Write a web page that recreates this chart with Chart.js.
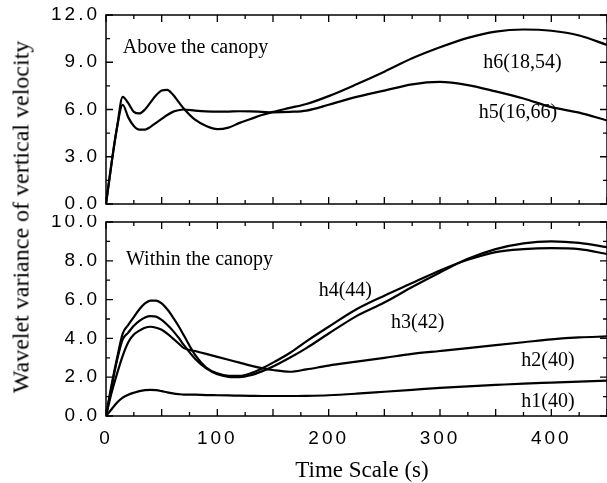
<!DOCTYPE html>
<html>
<head>
<meta charset="utf-8">
<script src="https://cdn.jsdelivr.net/npm/chart.js@4.4.1/dist/chart.umd.min.js"></script>
<style>
html, body { margin: 0; padding: 0; background: #fff; }
#wrap { position: relative; width: 607px; height: 483px; overflow: hidden; background: #fff; }
#wrap canvas { position: absolute; left: 0; }
#top_canvas { top: 0; }
#bottom_canvas { top: 215px; }
.y_title { position: absolute; left: 21px; top: 217px; transform: translate(-50%, -50%) rotate(-90deg);
  white-space: nowrap; font: 24px "Liberation Serif"; color: #000; }
.x_title { position: absolute; left: 362px; top: 470px; transform: translate(-50%, -50%);
  white-space: nowrap; font: 23px "Liberation Serif"; color: #000; }
</style>
</head>
<body>
<div id="wrap">
  <canvas id="top_canvas" width="607" height="215"></canvas>
  <canvas id="bottom_canvas" width="607" height="268"></canvas>
  <div class="y_title">Wavelet variance of vertical velocity</div>
  <div class="x_title">Time Scale (s)</div>
</div>
<script>
// time scale (s)
var time_scale = [0, 5, 10, 15, 20, 25, 30, 35, 40, 45, 50, 55, 60, 65, 70, 80, 90, 100, 110, 120,
                  130, 140, 150, 165, 180, 200, 225, 250, 275, 300, 325, 350, 375, 400, 425, 450];

// above the canopy
var h6 = [0, 2.6, 4.9, 6.8, 6.4, 5.85, 5.75, 6.0, 6.45, 6.9, 7.2, 7.25, 6.95, 6.5, 6.05, 5.35, 4.95, 4.75, 4.85, 5.15,
          5.4, 5.65, 5.85, 6.1, 6.35, 6.85, 7.6, 8.4, 9.25, 9.95, 10.55, 10.95, 11.08, 11.0, 10.7, 10.1];
var h5 = [0, 2.6, 4.9, 6.3, 5.5, 4.95, 4.72, 4.72, 4.9, 5.15, 5.4, 5.65, 5.85, 5.95, 6.0, 5.93, 5.88, 5.86, 5.87, 5.89,
          5.88, 5.85, 5.82, 5.85, 5.93, 6.3, 6.8, 7.2, 7.6, 7.75, 7.55, 7.15, 6.7, 6.15, 5.8, 5.3];

// within the canopy
var h4 = [0, 1.6, 3.0, 4.25, 4.7, 5.1, 5.5, 5.8, 5.95, 5.95, 5.8, 5.5, 5.1, 4.65, 4.15, 3.15, 2.5, 2.2, 2.07, 2.07,
          2.2, 2.45, 2.75, 3.25, 3.85, 4.6, 5.5, 6.2, 6.85, 7.5, 8.05, 8.45, 8.6, 8.65, 8.6, 8.35];
var h3 = [0, 1.5, 2.9, 3.95, 4.3, 4.65, 4.9, 5.08, 5.15, 5.12, 4.95, 4.7, 4.4, 4.05, 3.65, 2.95, 2.45, 2.15, 2.02, 2.0,
          2.1, 2.3, 2.55, 3.0, 3.5, 4.25, 5.15, 5.85, 6.65, 7.4, 8.1, 8.6, 8.9, 9.0, 8.92, 8.7];
var h2 = [0, 1.2, 2.2, 3.1, 3.8, 4.2, 4.4, 4.55, 4.6, 4.55, 4.45, 4.25, 4.0, 3.75, 3.5, 3.35, 3.2, 3.05, 2.9, 2.75,
          2.6, 2.47, 2.37, 2.28, 2.4, 2.6, 2.8, 3.0, 3.2, 3.35, 3.5, 3.65, 3.8, 3.95, 4.05, 4.1];
var h1 = [0, 0.35, 0.7, 0.95, 1.1, 1.2, 1.28, 1.33, 1.35, 1.33, 1.28, 1.22, 1.17, 1.13, 1.1, 1.1, 1.08, 1.07, 1.06, 1.05,
          1.04, 1.03, 1.03, 1.03, 1.04, 1.07, 1.15, 1.25, 1.35, 1.45, 1.53, 1.6, 1.67, 1.72, 1.77, 1.82];

// tick labels
var x_ticks = [0, 100, 200, 300, 400];
var top_y_ticks = [0, 3, 6, 9, 12];
var bottom_y_ticks = [0, 2, 4, 6, 8, 10];

// curve names and panel names: [text, time, value]
var top_labels = [['Above the canopy', 15, 9.9], ['h6(18,54)', 374, 8.95], ['h5(16,66)', 370, 5.8]];
var bottom_labels = [['Within the canopy', 18, 8.05], ['h4(44)', 215, 6.45], ['h3(42)', 280, 4.8],
                     ['h2(40)', 397, 2.85], ['h1(40)', 397, 0.75]];

function to_points(ys) {
    return time_scale.map(function (t, i) { return { x: t, y: ys[i] }; });
}

function make_set(ys) {
    return {
        data: to_points(ys),
        borderColor: '#000',
        borderWidth: 2.2,
        pointRadius: 0,
        fill: false,
        cubicInterpolationMode: 'monotone'
    };
}

// frame with inward ticks + text labels
var frame_plugin = {
    id: 'frame_ticks',
    beforeDraw: function (chart) {
        chart.ctx.letterSpacing = '3px';
    },
    afterDraw: function (chart, args, opts) {
        var ctx = chart.ctx, a = chart.chartArea;
        var xs = chart.scales.x, ys = chart.scales.y;
        ctx.save();
        ctx.strokeStyle = '#000';
        ctx.lineWidth = 1.5;
        ctx.strokeRect(a.left, a.top, a.right - a.left, a.bottom - a.top);
        ctx.lineWidth = 1.3;
        ctx.beginPath();
        for (var v = 0; v <= 450; v += 25) {
            var px = xs.getPixelForValue(v);
            var len = (v % 50 == 0) ? 7 : 4;
            ctx.moveTo(px, a.bottom); ctx.lineTo(px, a.bottom - len);
            ctx.moveTo(px, a.top); ctx.lineTo(px, a.top + len);
        }
        for (var k = 0; k * opts.minor <= opts.max + 0.001; k++) {
            var py = ys.getPixelForValue(k * opts.minor);
            var l2 = (k % 2 == 0) ? 7 : 4;
            ctx.moveTo(a.left, py); ctx.lineTo(a.left + l2, py);
            ctx.moveTo(a.right, py); ctx.lineTo(a.right - l2, py);
        }
        ctx.stroke();

        ctx.letterSpacing = '0px';
        ctx.fillStyle = '#000';
        ctx.font = '20px "Liberation Serif"';
        ctx.textBaseline = 'middle';
        opts.labels.forEach(function (lb, i) {
            ctx.textAlign = (i == 0) ? 'left' : 'center';
            ctx.fillText(lb[0], xs.getPixelForValue(lb[1]), ys.getPixelForValue(lb[2]));
        });
        ctx.restore();
    }
};

function y_axis(max, ticks) {
    return {
        type: 'linear',
        min: 0,
        max: max,
        grid: { display: false, drawTicks: false },
        border: { display: false },
        afterBuildTicks: function (scale) {
            scale.ticks = ticks.map(function (v) { return { value: v }; });
        },
        afterFit: function (scale) {
            scale.width = 106;
            scale.paddingTop = 0;
            scale.paddingBottom = 0;
        },
        ticks: {
            padding: 6,
            color: '#000',
            font: { family: '"Liberation Sans"', size: 19 },
            callback: function (v) { return Number(v).toFixed(1); }
        }
    };
}

var top_chart = new Chart(document.getElementById('top_canvas'), {
    type: 'line',
    data: { datasets: [make_set(h6), make_set(h5)] },
    plugins: [frame_plugin],
    options: {
        responsive: false,
        animation: false,
        layout: { padding: { left: 0, right: 0, top: 15, bottom: 11 } },
        plugins: {
            legend: { display: false },
            tooltip: { enabled: false },
            frame_ticks: { max: 12, minor: 1.5, labels: top_labels }
        },
        scales: {
            x: { type: 'linear', min: 0, max: 450, display: false },
            y: y_axis(12, top_y_ticks)
        }
    }
});

var bottom_chart = new Chart(document.getElementById('bottom_canvas'), {
    type: 'line',
    data: { datasets: [make_set(h4), make_set(h3), make_set(h2), make_set(h1)] },
    plugins: [frame_plugin],
    options: {
        responsive: false,
        animation: false,
        layout: { padding: { left: 0, right: 0, top: 7, bottom: 0 } },
        plugins: {
            legend: { display: false },
            tooltip: { enabled: false },
            frame_ticks: { max: 10, minor: 1, labels: bottom_labels }
        },
        scales: {
            x: {
                type: 'linear',
                min: 0,
                max: 450,
                grid: { display: false, drawTicks: false },
                border: { display: false },
                afterBuildTicks: function (scale) {
                    scale.ticks = x_ticks.map(function (v) { return { value: v }; });
                },
                afterFit: function (scale) {
                    scale.height = 67;
                    scale.paddingLeft = 0;
                    scale.paddingRight = 0;
                },
                ticks: {
                    padding: 11,
                    color: '#000',
                    maxRotation: 0,
                    autoSkip: false,
                    font: { family: '"Liberation Sans"', size: 19 },
                    callback: function (v) { return String(v); }
                }
            },
            y: y_axis(10, bottom_y_ticks)
        }
    }
});
</script>
</body>
</html>
